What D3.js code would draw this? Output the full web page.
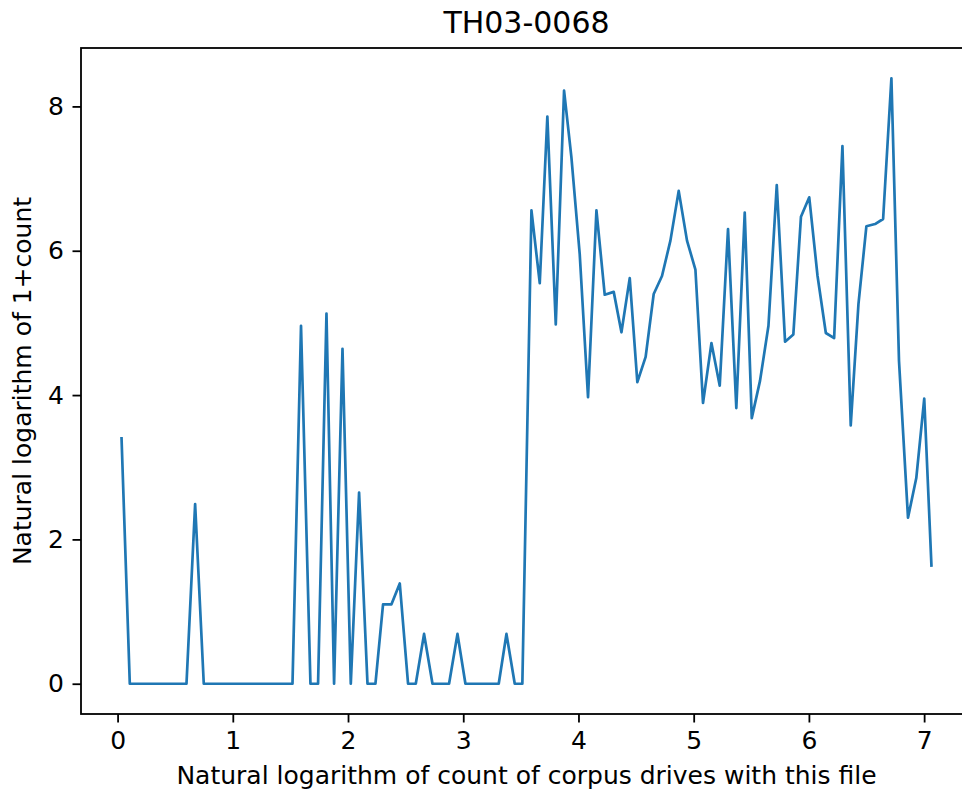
<!DOCTYPE html>
<html>
<head>
<meta charset="utf-8">
<script src="https://cdn.jsdelivr.net/npm/d3@7"></script>
<style>
  body { margin: 0; background: #fff; }
  svg { display: block; }
</style>
</head>
<body>
<div id="chart"></div>
<script>
// values (vertices of the line)
const xVals = [
  0.034, 0.106, 0.598, 0.673, 0.748, 1.518, 1.592, 1.674, 1.740, 1.813,
  1.879, 1.952, 2.024, 2.096, 2.169, 2.238, 2.304, 2.377, 2.449, 2.521,
  2.588, 2.660, 2.733, 2.877, 2.950, 3.019, 3.308, 3.375, 3.447, 3.513,
  3.592, 3.664, 3.730, 3.803, 3.875, 3.939, 4.011, 4.083, 4.156, 4.228,
  4.306, 4.373, 4.445, 4.511, 4.583, 4.653, 4.725, 4.798, 4.870, 4.942,
  5.015, 5.081, 5.154, 5.226, 5.298, 5.370, 5.443, 5.504, 5.576, 5.649,
  5.721, 5.793, 5.865, 5.931, 6.003, 6.075, 6.147, 6.219, 6.291, 6.363,
  6.430, 6.499, 6.574, 6.644, 6.716, 6.782, 6.860, 6.932, 7.001, 7.064
];
const yVals = [
  3.42, 0, 0, 2.49, 0, 0, 4.96, 0, 0, 5.13,
  0, 4.64, 0, 2.65, 0, 0, 1.10, 1.10, 1.39, 0,
  0, 0.69, 0, 0, 0.69, 0, 0, 0.69, 0, 0,
  6.56, 5.55, 7.86, 4.98, 8.22, 7.29, 5.95, 3.97, 6.56, 5.39,
  5.43, 4.87, 5.62, 4.18, 4.53, 5.40, 5.65, 6.14, 6.83, 6.14,
  5.74, 3.89, 4.72, 4.13, 6.30, 3.82, 6.53, 3.68, 4.20, 4.96,
  6.91, 4.74, 4.84, 6.47, 6.74, 5.65, 4.86, 4.79, 7.45, 3.58,
  5.26, 6.34, 6.37, 6.44, 8.39, 4.47, 2.30, 2.85, 3.95, 1.62
];
const xTicks = [0, 1, 2, 3, 4, 5, 6, 7];
const yTicks = [0, 2, 4, 6, 8];

const title = "TH03-0068";
const xLabel = "Natural logarithm of count of corpus drives with this file";
const yLabel = "Natural logarithm of 1+count";

const width = 962, height = 792;
const margin = {top: 48, left: 81, right: 972, bottom: 714}; // axes box edges in px
const font = "DejaVu Sans, sans-serif";

const data = xVals.map((x, i) => ({x: x, y: yVals[i]}));

// matplotlib style 5% padding
function padded(ext) {
  const p = (ext[1] - ext[0]) * 0.05;
  return [ext[0] - p, ext[1] + p];
}

const x = d3.scaleLinear()
  .domain(padded(d3.extent(xVals)))
  .range([margin.left, margin.right]);

const y = d3.scaleLinear()
  .domain(padded(d3.extent(yVals)))
  .range([margin.bottom, margin.top]);

const svg = d3.select("#chart").append("svg")
  .attr("width", width)
  .attr("height", height);

svg.append("rect")
  .attr("width", width)
  .attr("height", height)
  .attr("fill", "#fff");

// line
const line = d3.line()
  .x(d => x(d.x))
  .y(d => y(d.y));

svg.append("path")
  .datum(data)
  .attr("fill", "none")
  .attr("stroke", "#1f77b4")
  .attr("stroke-width", 2.7)
  .attr("stroke-linejoin", "round")
  .attr("stroke-linecap", "butt")
  .attr("d", line);

// axes box
svg.append("rect")
  .attr("x", margin.left)
  .attr("y", margin.top)
  .attr("width", margin.right - margin.left)
  .attr("height", margin.bottom - margin.top)
  .attr("fill", "none")
  .attr("stroke", "#000")
  .attr("stroke-width", 1.8);

const xAxis = svg.append("g")
  .attr("transform", `translate(0,${margin.bottom})`)
  .call(d3.axisBottom(x).tickValues(xTicks).tickFormat(d3.format("d"))
    .tickSize(8.5).tickPadding(8.5));

const yAxis = svg.append("g")
  .attr("transform", `translate(${margin.left},0)`)
  .call(d3.axisLeft(y).tickValues(yTicks).tickFormat(d3.format("d"))
    .tickSize(8.5).tickPadding(8.5));

[xAxis, yAxis].forEach(a => {
  a.select(".domain").remove();
  a.selectAll(".tick line").attr("stroke", "#000").attr("stroke-width", 1.8);
  a.selectAll(".tick text")
    .attr("fill", "#000")
    .style("font-family", font)
    .style("font-size", "25px");
});

// title and labels
svg.append("text")
  .attr("x", (margin.left + margin.right) / 2)
  .attr("y", 33)
  .attr("text-anchor", "middle")
  .style("font-family", font)
  .style("font-size", "30px")
  .text(title);

svg.append("text")
  .attr("x", (margin.left + margin.right) / 2)
  .attr("y", 784)
  .attr("text-anchor", "middle")
  .style("font-family", font)
  .style("font-size", "25px")
  .text(xLabel);

svg.append("text")
  .attr("transform", `translate(31,${(margin.top + margin.bottom) / 2}) rotate(-90)`)
  .attr("text-anchor", "middle")
  .style("font-family", font)
  .style("font-size", "25px")
  .text(yLabel);
</script>
</body>
</html>
